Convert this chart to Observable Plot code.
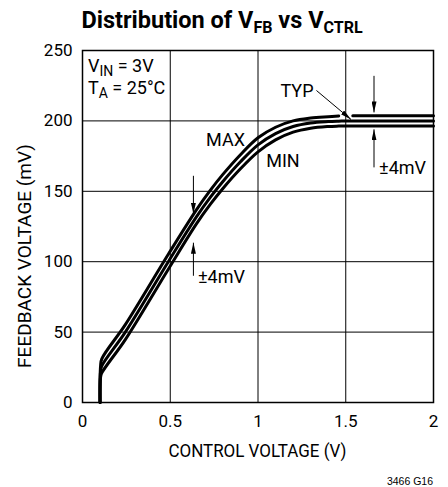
<!DOCTYPE html>
<html><head><meta charset="utf-8">
<script src="https://cdn.jsdelivr.net/npm/d3@7"></script>
<script src="https://cdn.jsdelivr.net/npm/@observablehq/plot@0.6"></script>
<style>body{margin:0;background:#fff}</style>
</head><body><div id="chart"></div>
<script>
// Control voltage (V) sample points
const ctrlV = [0.1, 0.103, 0.11, 0.244, 0.489, 0.65, 0.73, 0.8, 0.9, 1.0, 1.1, 1.2, 1.3, 1.4, 1.46, 1.49, 1.54, 1.75, 2.0];
// Feedback voltage (mV)
const typMV = [0, 22, 26, 50, 100, 132, 146, 157, 171, 183, 191, 196, 198.5, 199.5, 199.8, 199.9, 200, 200, 200];
const maxMV = [0, 26, 31, 55.3, 105.3, 137, 151, 162, 176, 188, 195.5, 200, 202, 203, 203.5, NaN, 203.6, 203.6, 203.6];
const minMV = [0, 18, 21, 44.7, 94.7, 127, 141, 152, 166, 178, 186.5, 192, 194.8, 196, 196.3, 196.4, 196.4, 196.4, 196.4];

const xTickLabels = ["0", "0.5", "1", "1.5", "2"];
const xGrid = [0.5, 1, 1.5];
const yGrid = [50, 100, 150, 200];

// annotations (data coordinates)
const centerLabels = [
  {x: 0.815, y: 186, text: "MAX"},
  {x: 1.142, y: 171.5, text: "MIN"},
  {x: 1.222, y: 221.4, text: "TYP"}
];
const startLabels = [
  {x: 1.69, y: 166.4, text: "±4mV"},
  {x: 0.658, y: 89, text: "±4mV"}
];
const arrows = [
  {x1: 0.632, y1: 161, x2: 0.632, y2: 134},
  {x1: 0.632, y1: 90, x2: 0.632, y2: 113.5},
  {x1: 1.661, y1: 232, x2: 1.661, y2: 206},
  {x1: 1.661, y1: 167, x2: 1.661, y2: 194},
  {x1: 1.333, y1: 221.6, x2: 1.53, y2: 201}
];

const series = [["MIN", minMV], ["TYP", typMV], ["MAX", maxMV]];
const rows = series.flatMap(([name, vals]) => ctrlV.map((v, i) => ({name, x: v, y: vals[i]})));

const FONT = "Roboto, 'Liberation Sans', sans-serif";

const chart = Plot.plot({
  width: 448, height: 487,
  marginLeft: 82, marginRight: 15, marginTop: 50, marginBottom: 85,
  style: {fontFamily: FONT, fontSize: "17px", color: "black", background: "white", overflow: "visible"},
  x: {domain: [0, 2], ticks: 4, tickSize: 0, tickPadding: 12, label: null, tickFormat: (d, i) => xTickLabels[Math.round(d * 2)]},
  y: {domain: [0, 250], ticks: 5, tickSize: 0, tickPadding: 10, label: null},
  marks: [
    Plot.ruleX(xGrid, {stroke: "black", strokeWidth: 1}),
    Plot.ruleY(yGrid, {stroke: "black", strokeWidth: 1}),
    Plot.line(rows, {x: "x", y: "y", z: "name", stroke: "black", strokeWidth: 3, curve: "catmull-rom"}),
    Plot.link(arrows, {x1: "x1", y1: "y1", x2: "x2", y2: "y2", stroke: "black", strokeWidth: 1}),
    Plot.text(centerLabels, {x: "x", y: "y", text: "text", textAnchor: "middle", fontFamily: FONT, fontSize: 18, fill: "black"}),
    Plot.text(startLabels, {x: "x", y: "y", text: "text", textAnchor: "start", fontFamily: FONT, fontSize: 18, fill: "black"}),
    Plot.frame({stroke: "black", strokeWidth: 1.5})
  ]
});
document.getElementById("chart").appendChild(chart);

const svg = d3.select(chart);
const sx = chart.scale("x"), sy = chart.scale("y");

// arrowheads
const defs = svg.append("defs");
defs.append("marker").attr("id", "ah").attr("viewBox", "0 0 11 5").attr("refX", 11).attr("refY", 2.5)
  .attr("markerWidth", 11).attr("markerHeight", 5).attr("markerUnits", "userSpaceOnUse").attr("orient", "auto")
  .append("path").attr("d", "M0,0L11,2.5L0,5Z").attr("fill", "black");
svg.selectAll('g[aria-label="link"] path').attr("marker-end", "url(#ah)");

// Title
const title = svg.append("text").attr("x", 222).attr("y", 28).attr("text-anchor", "middle")
  .attr("font-family", FONT).attr("font-weight", "bold").attr("font-size", 23.5).attr("fill", "black");
title.append("tspan").text("Distribution of V");
title.append("tspan").text("FB").attr("font-size", 16).attr("dy", 5);
title.append("tspan").text(" vs V").attr("dy", -5);
title.append("tspan").text("CTRL").attr("font-size", 16).attr("dy", 5);

// Conditions
function sub(x, y, main, s, rest) {
  const t = svg.append("text").attr("x", sx.apply(x)).attr("y", sy.apply(y)).attr("text-anchor", "start")
    .attr("font-family", FONT).attr("font-size", 18).attr("fill", "black");
  t.append("tspan").text(main);
  t.append("tspan").text(s).attr("font-size", 14).attr("dy", 4);
  t.append("tspan").text(rest).attr("dy", -4);
}
sub(0.034, 234.6, "V", "IN", " = 3V");
sub(0.034, 219, "T", "A", " = 25°C");

// axis labels
svg.append("text").attr("x", (sx.apply(0) + sx.apply(2)) / 2).attr("y", 457).attr("text-anchor", "middle")
  .attr("font-family", FONT).attr("font-size", 18).attr("fill", "black")
  .attr("textLength", 178).attr("lengthAdjust", "spacingAndGlyphs").text("CONTROL VOLTAGE (V)");
svg.append("text").attr("transform", `translate(31,256) rotate(-90)`).attr("text-anchor", "middle")
  .attr("font-family", FONT).attr("font-size", 19).attr("fill", "black").text("FEEDBACK VOLTAGE (mV)");
svg.append("text").attr("x", 433).attr("y", 485).attr("text-anchor", "end")
  .attr("font-family", "'Liberation Sans', Arial, sans-serif").attr("font-size", 10.5).attr("fill", "black").text("3466 G16");
</script>
</body></html>
